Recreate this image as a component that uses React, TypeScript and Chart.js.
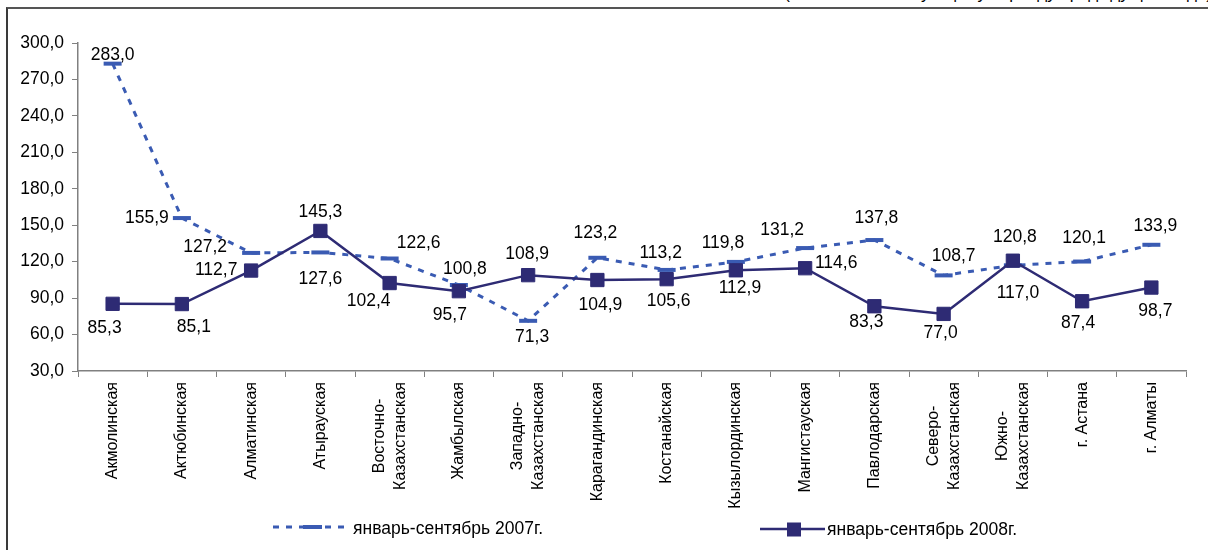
import React, { useEffect, useRef } from 'react';
import { Chart, registerables } from 'chart.js';

Chart.register(...registerables);

const categories: (string | string[])[] = [
  'Акмолинская',
  'Актюбинская',
  'Алматинская',
  'Атырауская',
  ['Восточно-', 'Казахстанская'],
  'Жамбылская',
  ['Западно-', 'Казахстанская'],
  'Карагандинская',
  'Костанайская',
  'Кызылординская',
  'Мангистауская',
  'Павлодарская',
  ['Северо-', 'Казахстанская'],
  ['Южно-', 'Казахстанская'],
  'г. Астана',
  'г. Алматы',
];

const values2007 = [283.0, 155.9, 127.2, 127.6, 122.6, 100.8, 71.3, 123.2, 113.2, 119.8, 131.2, 137.8, 108.7, 117.0, 120.1, 133.9];
const values2008 = [85.3, 85.1, 112.7, 145.3, 102.4, 95.7, 108.9, 104.9, 105.6, 112.9, 114.6, 83.3, 77.0, 120.8, 87.4, 98.7];

const seriesNames = ['январь-сентябрь 2007г.', 'январь-сентябрь 2008г.'];

const yMin = 30;
const yMax = 300;
const yStep = 30;

const headerText = '(в % к соответствующему периоду предыдущего года)';

// label offsets relative to each point (style config)
const labelOffsets2007 = [[0, -8], [-35, 0], [-46, -6], [0, 27], [29, -15], [6, -16], [4, 16], [-2, -25], [-6, -17], [-13, -19], [-23, -18], [2, -22], [10, -19], [5, 28], [2, -23], [4, -19]];
const labelOffsets2008 = [[-8, 24], [12, 23], [-35, 0], [0, -19], [-21, 18], [-9, 24], [-1, -21], [3, 25], [2, 22], [4, 18], [31, -5], [-8, 16], [-3, 19], [2, -24], [-4, 22], [4, 24]];

const COLOR_2007 = '#3A5BB3';
const COLOR_2008 = '#2E2B74';
const AXIS = '#808080';
const FONT = '"Liberation Sans", Arial, sans-serif';

const fmt = (v: number) => v.toFixed(1).replace('.', ',');

const labelPlugin = {
  id: 'pointLabels',
  afterDatasetsDraw(chart: any) {
    const ctx = chart.ctx;
    ctx.save();
    ctx.font = `17.5px ${FONT}`;
    ctx.fillStyle = '#000';
    ctx.textAlign = 'center';
    ctx.textBaseline = 'middle';
    chart.data.datasets.forEach((ds: any, di: number) => {
      const meta = chart.getDatasetMeta(di);
      const offs = ds.labelOffsets as number[][];
      meta.data.forEach((pt: any, i: number) => {
        const [dx, dy] = offs[i];
        ctx.fillText(fmt(ds.data[i]), pt.x + dx, pt.y + dy);
      });
    });
    ctx.restore();
  },
};

const categoryLabelPlugin = {
  id: 'categoryLabels',
  afterDraw(chart: any) {
    const ctx = chart.ctx;
    const xs = chart.scales.x;
    const top = xs.top + 11;
    const lh = 21;
    ctx.save();
    ctx.font = `16px ${FONT}`;
    ctx.fillStyle = '#000';
    ctx.textAlign = 'center';
    ctx.textBaseline = 'middle';
    (chart.data.labels as any[]).forEach((lab: any, i: number) => {
      const lines: string[] = Array.isArray(lab) ? lab : [lab];
      const maxW = Math.max(...lines.map((l) => ctx.measureText(l).width));
      const x = xs.getPixelForValue(i);
      ctx.save();
      ctx.translate(x, top);
      ctx.rotate(-Math.PI / 2);
      lines.forEach((l, j) => {
        ctx.fillText(l, -maxW / 2, (j - (lines.length - 1) / 2) * lh);
      });
      ctx.restore();
    });
    ctx.restore();
  },
};

const legendPlugin = {
  id: 'customLegend',
  afterDraw(chart: any) {
    const ctx = chart.ctx;
    ctx.save();
    // 2007
    ctx.strokeStyle = COLOR_2007;
    ctx.lineWidth = 3;
    ctx.setLineDash([6, 7]);
    ctx.beginPath();
    ctx.moveTo(273, 527);
    ctx.lineTo(350, 527);
    ctx.stroke();
    ctx.setLineDash([]);
    ctx.lineWidth = 4;
    ctx.beginPath();
    ctx.moveTo(303, 527);
    ctx.lineTo(322, 527);
    ctx.stroke();
    // 2008
    ctx.strokeStyle = COLOR_2008;
    ctx.lineWidth = 2.5;
    ctx.beginPath();
    ctx.moveTo(760, 529);
    ctx.lineTo(825, 529);
    ctx.stroke();
    ctx.fillStyle = COLOR_2008;
    ctx.fillRect(787, 522.5, 14, 14);
    // text
    ctx.fillStyle = '#000';
    ctx.font = `17.5px ${FONT}`;
    ctx.textAlign = 'left';
    ctx.textBaseline = 'middle';
    ctx.fillText(seriesNames[0], 353, 529);
    ctx.fillText(seriesNames[1], 827, 530);
    ctx.restore();
  },
};

export default function App() {
  const ref = useRef<HTMLCanvasElement | null>(null);

  useEffect(() => {
    if (!ref.current) return;
    const chart = new Chart(ref.current, {
      type: 'line',
      data: {
        labels: categories as any,
        datasets: [
          {
            label: seriesNames[1],
            data: values2008,
            borderColor: COLOR_2008,
            backgroundColor: COLOR_2008,
            borderWidth: 2.5,
            pointStyle: 'rect',
            pointRadius: 9.4,
            pointBorderWidth: 1,
            pointBorderColor: COLOR_2008,
            pointBackgroundColor: COLOR_2008,
            tension: 0,
            order: 0,
            labelOffsets: labelOffsets2008,
          } as any,
          {
            label: seriesNames[0],
            data: values2007,
            borderColor: COLOR_2007,
            backgroundColor: COLOR_2007,
            borderWidth: 3,
            borderDash: [6, 7],
            pointStyle: 'line',
            pointRadius: 9,
            pointBorderWidth: 4,
            pointBorderColor: COLOR_2007,
            tension: 0,
            order: 1,
            labelOffsets: labelOffsets2007,
          } as any,
        ],
      },
      options: {
        responsive: false,
        animation: false,
        events: [],
        layout: { padding: { left: 0, top: 43, right: 22, bottom: 0 } },
        plugins: {
          legend: { display: false },
          tooltip: { enabled: false },
        },
        scales: {
          x: {
            type: 'category',
            offset: true,
            afterFit: (s: any) => {
              s.height = 179;
            },
            grid: {
              display: true,
              offset: true,
              drawOnChartArea: false,
              drawTicks: true,
              tickLength: 6,
              color: AXIS,
              lineWidth: 1,
            },
            border: { display: true, color: AXIS, width: 1.5 },
            ticks: {
              display: false,
              autoSkip: false,
            },
          },
          y: {
            type: 'linear',
            min: yMin,
            max: yMax,
            afterFit: (s: any) => {
              s.width = 78;
            },
            grid: {
              display: true,
              drawOnChartArea: false,
              drawTicks: true,
              tickLength: 6,
              color: AXIS,
              lineWidth: 1,
            },
            border: { display: true, color: AXIS, width: 1.5 },
            ticks: {
              stepSize: yStep,
              padding: 8,
              color: '#000',
              font: { family: FONT, size: 17.5 },
              callback: (v: any) => fmt(Number(v)),
            },
          },
        },
      },
      plugins: [labelPlugin, categoryLabelPlugin, legendPlugin],
    });
    return () => chart.destroy();
  }, []);

  return (
    <div
      style={{
        position: 'fixed',
        left: 0,
        top: 0,
        width: 1208,
        height: 550,
        background: '#fff',
        overflow: 'hidden',
      }}
    >
      <div
        style={{
          position: 'absolute',
          right: -4,
          top: -15,
          fontFamily: FONT,
          fontSize: 17,
          lineHeight: '17px',
          whiteSpace: 'nowrap',
          color: '#000',
        }}
      >
        {headerText}
      </div>
      <div
        style={{
          position: 'absolute',
          left: 6,
          top: 7,
          right: -10,
          bottom: -10,
          borderLeft: '2px solid #3a3a3a',
          borderTop: '2px solid #555',
        }}
      />
      <canvas ref={ref} width={1208} height={550} style={{ position: 'absolute', left: 0, top: 0, width: 1208, height: 550 }} />
    </div>
  );
}
